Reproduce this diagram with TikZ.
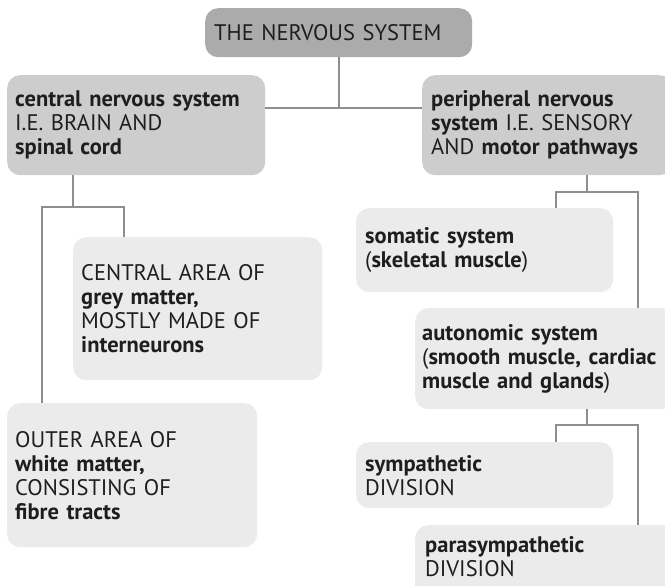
\documentclass[tikz,border=0pt]{standalone}
\usepackage{fontspec}
\setmainfont{PT Sans}
\definecolor{titlegrey}{HTML}{ABABAB}
\definecolor{midgrey}{HTML}{CDCDCD}
\definecolor{lightgrey}{HTML}{EBEBEB}
\definecolor{linegrey}{HTML}{8E8E8E}
\definecolor{ink}{HTML}{1E1E1E}
\tikzset{
  box/.style={rounded corners=13pt, anchor=north west, inner ysep=0pt, align=left, text=ink,
              font=\fontsize{22.5}{24}\selectfont},
  conn/.style={draw=linegrey, line width=1.8pt, line join=miter},
}
\begin{document}
\begin{tikzpicture}[x=1pt,y=-1pt]
\useasboundingbox (0,0) rectangle (665,586);
\begin{scope}
\clip (0,0) rectangle (665,586);
% boxes
\node[box, fill=titlegrey, text width=249pt, inner xsep=9pt, minimum height=49pt] (title) at (205,8) {THE NERVOUS SYSTEM};
\node[box, fill=midgrey, text width=242pt, inner xsep=8pt, minimum height=100pt] (cns) at (7,75)
  {\textbf{central nervous system}\\I.E. BRAIN AND\\\textbf{spinal cord}};
\node[box, fill=midgrey, text width=232pt, inner xsep=9pt, minimum height=100pt] (pns) at (422,75)
  {\textbf{peripheral nervous}\\\textbf{system} I.E. SENSORY\\AND \textbf{motor pathways}};
\node[box, fill=lightgrey, text width=233pt, inner xsep=8pt, minimum height=143pt] (grey) at (73,237)
  {CENTRAL AREA OF\\\textbf{grey matter,}\\MOSTLY MADE OF\\\textbf{interneurons}};
\node[box, fill=lightgrey, text width=234pt, inner xsep=8pt, minimum height=144pt] (white) at (7,403)
  {OUTER AREA OF\\\textbf{white matter,}\\CONSISTING OF\\\textbf{fibre tracts}};
\node[box, fill=lightgrey, text width=239pt, inner xsep=9pt, minimum height=84pt] (somatic) at (356,208)
  {\textbf{somatic system}\\(\textbf{skeletal muscle})};
\node[box, fill=lightgrey, text width=246pt, inner xsep=7pt, minimum height=101pt] (auto) at (415,308)
  {\textbf{autonomic system}\\(\textbf{smooth muscle, cardiac}\\\textbf{muscle and glands})};
\node[box, fill=lightgrey, text width=239pt, inner xsep=9pt, minimum height=66pt] (symp) at (356,442)
  {\textbf{sympathetic}\\DIVISION};
\node[box, fill=lightgrey, text width=246pt, inner xsep=7pt, minimum height=75pt] (para) at (415,525) {};
\node[box, anchor=west, text width=240pt, inner xsep=0pt] (paratext) at (425,557)
  {\textbf{parasympathetic}\\DIVISION};
% junction coordinates
\coordinate (j1) at (339,108);
\coordinate (j2) at (73,207);
\coordinate (c2a) at (42,207);
\coordinate (c2b) at (124,207);
\coordinate (j3) at (587,192);
\coordinate (p3a) at (556,192);
\coordinate (p3b) at (638,192);
\coordinate (j4) at (587,425);
\coordinate (p4a) at (556,425);
\coordinate (p4b) at (638,425);
% connectors
\draw[conn] (title.south -| j1) -- (j1);
\draw[conn] (cns.east |- j1) -- (pns.west |- j1);
\draw[conn] (cns.south -| j2) -- (j2);
\draw[conn] (white.north -| c2a) -- (c2a) -- (c2b) -- (grey.north -| c2b);
\draw[conn] (pns.south -| j3) -- (j3);
\draw[conn] (somatic.north -| p3a) -- (p3a) -- (p3b) -- (auto.north -| p3b);
\draw[conn] (auto.south -| j4) -- (j4);
\draw[conn] (symp.north -| p4a) -- (p4a) -- (p4b) -- (para.north -| p4b);
\end{scope}
\end{tikzpicture}
\end{document}
